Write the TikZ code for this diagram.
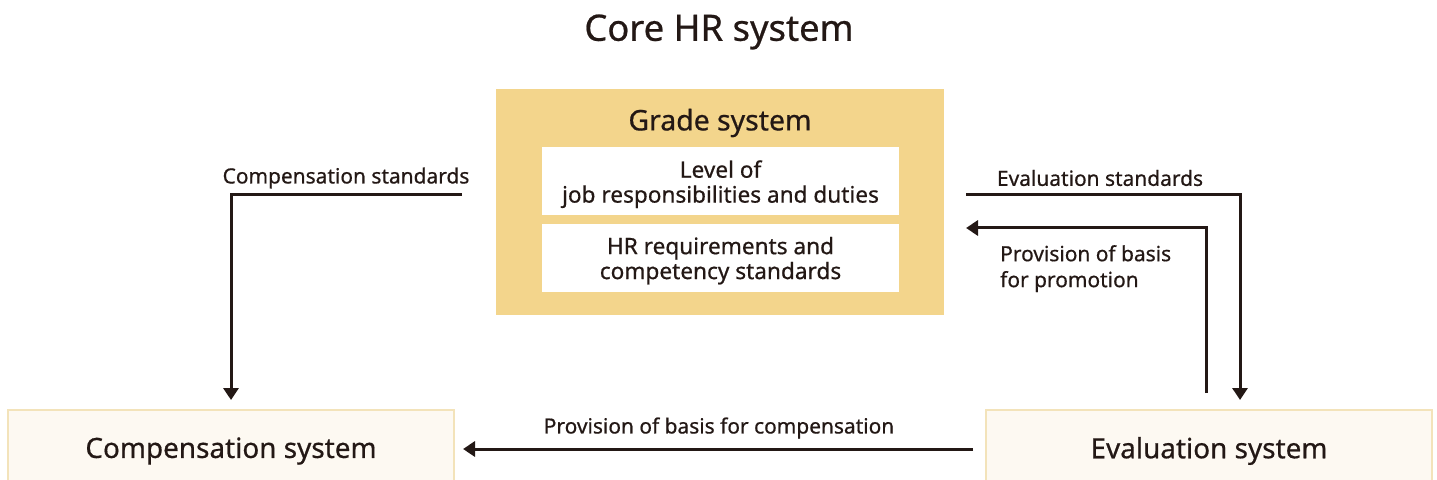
\documentclass[tikz,border=0pt]{standalone}
\usepackage{fontspec}
\setmainfont{Noto Sans}[FakeBold=0.6]
\usetikzlibrary{positioning,arrows.meta,calc}
\definecolor{gradegold}{RGB}{243,213,140}
\definecolor{paleivory}{RGB}{253,249,242}
\definecolor{ivoryline}{RGB}{243,227,186}
\definecolor{inkbrown}{RGB}{35,24,21}

\begin{document}
\begin{tikzpicture}[x=1bp, y=-1bp,
    flow/.style={-{Triangle[length=12bp,width=15bp]}, line width=3bp, draw=inkbrown},
    lbl/.style={text=inkbrown, font=\fontsize{21}{26}\selectfont, inner sep=0pt},
    sysbox/.style={draw=ivoryline, line width=2bp, fill=paleivory, minimum width=446bp,
        minimum height=78bp, text=inkbrown, font=\fontsize{28}{32}\selectfont},
    itembox/.style={fill=white, minimum width=357bp, minimum height=68bp, align=center,
        text=inkbrown, font=\fontsize{22.7}{25}\selectfont, inner sep=0pt}]
    \clip (0,0) rectangle (1437,480);

    % Title
    \node[text=inkbrown, font=\fontsize{36.5}{40}\selectfont] (title) at (719,32) {Core HR system};

    % Grade system block
    \node[fill=gradegold, minimum width=448bp, minimum height=226bp] (grade) at (720,202) {};
    \node[text=inkbrown, font=\fontsize{28.5}{32}\selectfont] (gradetitle) at (720,123) {Grade system};
    \node[itembox, text depth=0pt] (level) at (720.5,181.5) {Level of\\job responsibilities and duties};
    \node[itembox, text depth=0pt] (hrreq) at (720.5,258) {HR requirements and\\competency standards};

    % Bottom systems
    \node[sysbox] (comp) at (231,449) {};
    \node[sysbox] (eval) at (1209,449) {};
    \node[text=inkbrown, font=\fontsize{28}{32}\selectfont] (comptext) at (231,451) {Compensation system};
    \node[text=inkbrown, font=\fontsize{28}{32}\selectfont] (evaltext) at (1209,451) {Evaluation system};

    % Connectors
    \coordinate (cstart) at (462,195);
    \coordinate (estart) at (966,195);
    \coordinate (pend) at (966,228);

    \draw[flow, shorten >=9bp] (cstart) -| (comp.north);
    \node[lbl] (clabel) at (346,178) {Compensation standards};

    \draw[flow, shorten >=9bp] (estart) -| ([xshift=31bp]eval.north);
    \node[lbl] (elabel) at (1100,178) {Evaluation standards};

    \draw[flow] ([xshift=-3bp,yshift=16bp]eval.north) |- (pend);
    \node[lbl, anchor=north west, align=left] (plabel) at (1000,245) {Provision of basis\\for promotion};

    \draw[flow, shorten <=12bp, shorten >=8bp] (eval.west) -- (comp.east);
    \node[lbl] (blabel) at (719,428) {Provision of basis for compensation};
\end{tikzpicture}
\end{document}
